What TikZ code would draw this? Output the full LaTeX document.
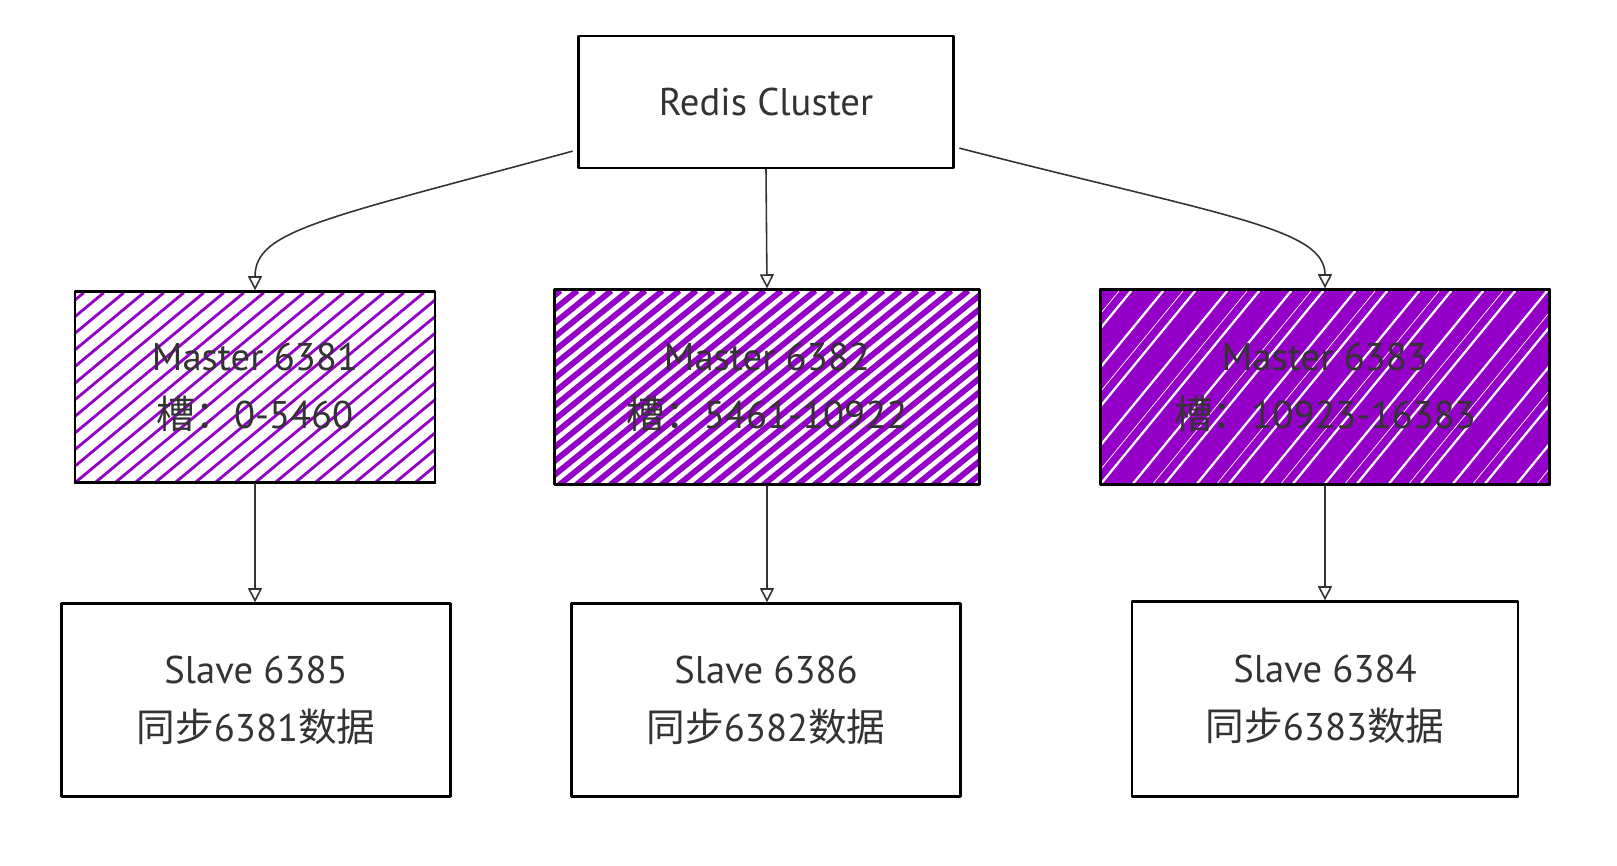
\documentclass[tikz,border=0pt]{standalone}
\usepackage{fontspec}
\setmainfont{PT Sans}
\newfontfamily\cjk{Noto Sans CJK SC}
\usetikzlibrary{arrows.meta,backgrounds}

\definecolor{hatchpurple}{HTML}{9400C8}
\definecolor{inkgray}{HTML}{333333}

\begin{document}
\begin{tikzpicture}[x=0.02cm, y=-0.02cm, line cap=round, line join=round,
  box/.style={draw=black, line width=1.4pt, fill=white, align=center,
    text=inkgray, font=\fontsize{22}{33}\selectfont, inner sep=0pt},
  hbox/.style={box, fill=none},
  hatch/.style={draw=hatchpurple},
  link/.style={draw=inkgray, line width=0.9pt,
    -{Triangle[open, length=8pt, width=8pt]}}]
% canvas
\useasboundingbox (0,0) rectangle (1617,866);

% ---------- top ----------
\node[box, minimum width=7.5cm, minimum height=2.64cm] (cluster) at (766,102) {Redis Cluster};

% ---------- masters ----------
\node[hbox, minimum width=7.2cm, minimum height=3.82cm] (m1) at (255,387)
  {Master 6381\\{\cjk 槽：}0-5460};
\node[hbox, minimum width=8.5cm, minimum height=3.9cm] (m2) at (767,387)
  {Master 6382\\{\cjk 槽：}5461-10922};
\node[hbox, minimum width=8.98cm, minimum height=3.9cm] (m3) at (1325,387)
  {Master 6383\\{\cjk 槽：}10923-16383};

% hachures behind the masters
\begin{scope}[on background layer]
  \begin{scope}
    \clip (m1.south west) rectangle (m1.north east);
    \foreach \x in {-240,-220,...,380}
      \draw[hatch, line width=1.6pt] ([shift={(\x,0)}]m1.south west) -- ++(230,-191);
  \end{scope}
  \begin{scope}
    \clip (m2.south west) rectangle (m2.north east);
    \foreach \x in {-250,-233,...,440}
      \draw[hatch, line width=3.3pt] ([shift={(\x,0)}]m2.south west) -- ++(240,-195);
  \end{scope}
  \begin{scope}
    \clip (m3.south west) rectangle (m3.north east);
    \fill[hatchpurple] (m3.south west) rectangle (m3.north east);
    \foreach \x in {-160,-128,...,460}
      \draw[white, line width=1.3pt] ([shift={(\x,0)}]m3.south west) -- ++(160,-195);
    \foreach \x in {-140,-76,...,460}
      \draw[white, line width=0.4pt] ([shift={(\x,0)}]m3.south west) -- ++(160,-195);
  \end{scope}
\end{scope}

% ---------- slaves ----------
\node[box, minimum width=7.78cm, minimum height=3.86cm] (s1) at (256,700)
  {Slave 6385\\{\cjk 同步}6381{\cjk 数据}};
\node[box, minimum width=7.78cm, minimum height=3.86cm] (s2) at (766,700)
  {Slave 6386\\{\cjk 同步}6382{\cjk 数据}};
\node[box, minimum width=7.72cm, minimum height=3.9cm] (s3) at (1325,699)
  {Slave 6384\\{\cjk 同步}6383{\cjk 数据}};

% ---------- links ----------
\coordinate (cl) at ([shift={(-5,-18)}]cluster.south west);
\coordinate (cr) at ([shift={(5,-21)}]cluster.south east);
\draw[link] (cl) .. controls +(-250,68) and +(0,-60) .. (m1.north);
\draw[link] (cluster.south) -- (m2.north);
\draw[link] (cr) .. controls +(265,68) and +(0,-60) .. (m3.north);

\draw[link] (m1.south) -- (m1.south |- s1.north);
\draw[link] (m2.south) -- (m2.south |- s2.north);
\draw[link] (m3.south) -- (m3.south |- s3.north);
\end{tikzpicture}
\end{document}
